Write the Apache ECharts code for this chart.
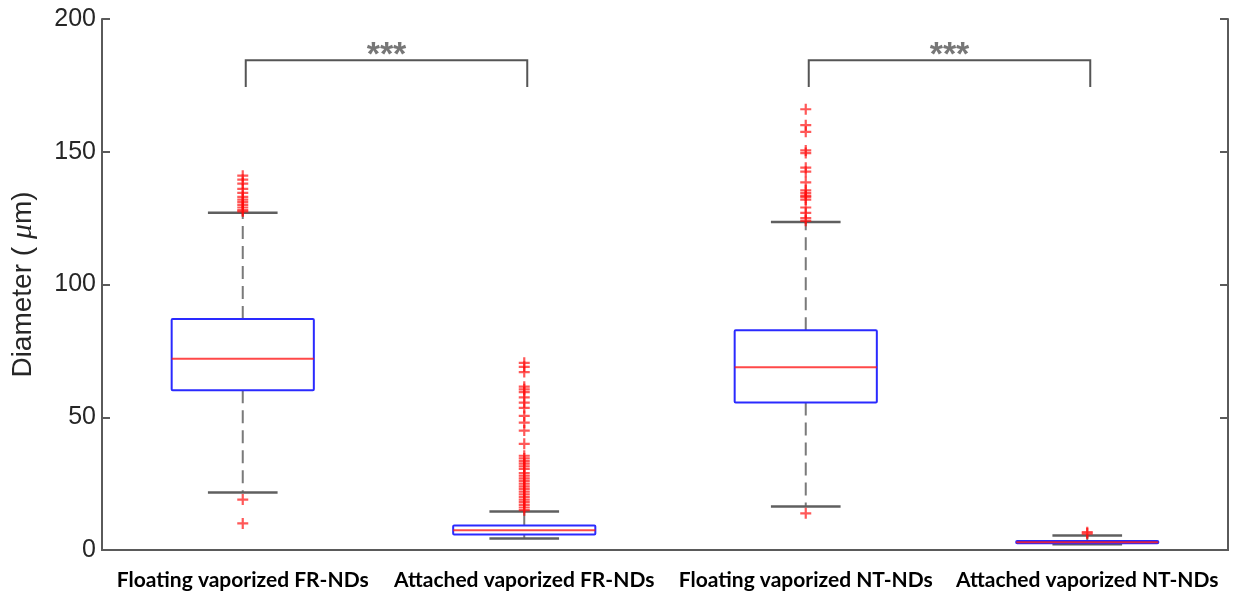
<!DOCTYPE html>
<html>
<head>
<meta charset="utf-8">
<script src="https://cdn.jsdelivr.net/npm/echarts@6/dist/echarts.min.js"></script>
<style>
  html, body { margin: 0; padding: 0; background: #fff; }
  #chart { width: 1236px; height: 601px; }
</style>
</head>
<body>
<div id="chart"></div>
<script>
// Groups along the x axis
const categories = [
  'Floating vaporized FR-NDs',
  'Attached vaporized FR-NDs',
  'Floating vaporized NT-NDs',
  'Attached vaporized NT-NDs'
];

// Box statistics per group (µm)
const whiskerLow  = [21.7, 4.3, 16.4, 2.2];
const quartile1   = [60.2, 5.8, 55.6, 2.5];
const medians     = [72.0, 7.4, 68.8, 2.9];
const quartile3   = [87.0, 9.2, 82.8, 3.4];
const whiskerHigh = [127.0, 14.5, 123.5, 5.5];

// Outliers per group (µm)
const outliersFloatingFR = [141, 139.5, 138, 136, 134.5, 133, 132, 131, 130, 129, 128, 127.5, 19, 10];
const outliersAttachedFR = [70.5, 69, 67, 61.5, 60.5, 59.5, 57.5, 55.5, 53.5, 50.5, 48, 45, 40,
  35.5, 34.5, 33.5, 32.5, 31.5, 30.5, 29, 28, 27, 26, 25, 24, 23, 22, 21, 20, 19, 18, 17, 16, 15];
const outliersFloatingNT = [166, 160, 157.5, 150.5, 149.5, 144, 142.5, 138.5, 135.5, 134.5, 133.5,
  133, 132, 129, 127, 125, 124, 13.8];
const outliersAttachedNT = [6.7, 6.2];

// Significance brackets: [left group, right group, leg bottom, bar height, text]
const brackets = [
  [0, 1, 174.4, 184.5, '***'],
  [2, 3, 174.4, 184.5, '***']
];

const boxData = categories.map((c, i) => [i, whiskerLow[i], quartile1[i], medians[i], quartile3[i], whiskerHigh[i]]);
const outlierData = [];
[outliersFloatingFR, outliersAttachedFR, outliersFloatingNT, outliersAttachedNT].forEach((arr, i) => {
  arr.forEach(v => outlierData.push([i, v]));
});

const plusPath = 'path://M4,0H6V4H10V6H6V10H4V6H0V4H4Z';
const frameColor = '#5a5a5a';

function renderBox(params, api) {
  const idx = api.value(0);
  const lo = api.coord([idx, api.value(1)]);
  const q1 = api.coord([idx, api.value(2)]);
  const md = api.coord([idx, api.value(3)]);
  const q3 = api.coord([idx, api.value(4)]);
  const hi = api.coord([idx, api.value(5)]);
  const band = api.size([1, 0])[0];
  const x = lo[0];
  const bw = band * 0.505;
  const cw = bw * 0.49;
  const dash = { stroke: '#7a7a7a', lineWidth: 2, lineDash: [13, 7] };
  const cap = { stroke: '#5f5f5f', lineWidth: 2.5 };
  return {
    type: 'group',
    children: [
      { type: 'line', shape: { x1: x, y1: q3[1], x2: x, y2: hi[1] }, style: dash },
      { type: 'line', shape: { x1: x, y1: q1[1], x2: x, y2: lo[1] }, style: dash },
      { type: 'line', shape: { x1: x - cw / 2, y1: hi[1], x2: x + cw / 2, y2: hi[1] }, style: cap },
      { type: 'line', shape: { x1: x - cw / 2, y1: lo[1], x2: x + cw / 2, y2: lo[1] }, style: cap },
      { type: 'rect', shape: { x: x - bw / 2, y: q3[1], width: bw, height: q1[1] - q3[1], r: 1 },
        style: { fill: 'none', stroke: '#2a2aff', lineWidth: 2 } },
      { type: 'line', shape: { x1: x - bw / 2, y1: md[1], x2: x + bw / 2, y2: md[1] },
        style: { stroke: 'rgba(255,20,20,0.78)', lineWidth: 2 } }
    ]
  };
}

function renderBracket(params, api) {
  const a = api.value(0), b = api.value(1);
  const pLow = api.coord([a, api.value(2)]);
  const pHigh = api.coord([a, api.value(3)]);
  const qHigh = api.coord([b, api.value(3)]);
  const qLow = api.coord([b, api.value(2)]);
  const off = 3;
  return {
    type: 'group',
    children: [
      { type: 'polyline',
        shape: { points: [[pLow[0] + off, pLow[1]], [pHigh[0] + off, pHigh[1]], [qHigh[0] + off, qHigh[1]], [qLow[0] + off, qLow[1]]] },
        style: { stroke: '#555', lineWidth: 2, fill: 'none' } },
      { type: 'text',
        style: { text: brackets[params.dataIndex][4], x: (pHigh[0] + qHigh[0]) / 2 + off, y: pHigh[1] - 5,
          align: 'center', verticalAlign: 'middle', fill: '#777', font: 'bold 34px "Liberation Sans", Arial' } }
    ]
  };
}

const chart = echarts.init(document.getElementById('chart'), null, { renderer: 'canvas' });
chart.setOption({
  animation: false,
  backgroundColor: '#fff',
  grid: { left: 100, right: 8, top: 19, bottom: 51 },
  xAxis: [
    {
      type: 'category', data: categories, position: 'bottom',
      axisLine: { lineStyle: { color: frameColor, width: 2 } },
      axisTick: { inside: true, alignWithLabel: true, length: 8, lineStyle: { color: frameColor, width: 2 } },
      axisLabel: { interval: 0, color: '#000', fontFamily: 'Lato', fontWeight: 'bold', fontSize: 21, margin: 20 }
    },
    {
      type: 'category', data: categories, position: 'top',
      axisLine: { lineStyle: { color: frameColor, width: 2 } },
      axisTick: { inside: true, alignWithLabel: true, length: 8, lineStyle: { color: frameColor, width: 2 } },
      axisLabel: { show: false }
    }
  ],
  yAxis: [
    {
      type: 'value', min: 0, max: 200, interval: 50, position: 'left',
      name: 'Diameter ( {i|μ}m)', nameLocation: 'middle', nameGap: 64,
      nameTextStyle: { color: '#262626', fontFamily: 'Liberation Sans', fontSize: 28,
        rich: { i: { fontStyle: 'italic', fontFamily: 'Liberation Serif', fontSize: 30, color: '#262626' } } },
      axisLine: { show: true, lineStyle: { color: frameColor, width: 2 } },
      axisTick: { show: true, inside: true, length: 8, lineStyle: { color: frameColor, width: 2 } },
      axisLabel: { color: '#262626', fontFamily: 'Liberation Sans', fontSize: 25, margin: 6 },
      splitLine: { show: false }
    },
    {
      type: 'value', min: 0, max: 200, interval: 50, position: 'right',
      axisLine: { show: true, lineStyle: { color: frameColor, width: 2 } },
      axisTick: { show: true, inside: true, length: 8, lineStyle: { color: frameColor, width: 2 } },
      axisLabel: { show: false },
      splitLine: { show: false }
    }
  ],
  series: [
    {
      type: 'custom', name: 'boxes', xAxisIndex: 0, yAxisIndex: 0,
      renderItem: renderBox, data: boxData, z: 2
    },
    {
      type: 'scatter', name: 'outliers', xAxisIndex: 0, yAxisIndex: 0,
      symbol: plusPath, symbolSize: 11, data: outlierData,
      itemStyle: { color: 'rgba(255,10,10,0.85)' }, z: 3
    },
    {
      type: 'custom', name: 'brackets', xAxisIndex: 0, yAxisIndex: 0,
      renderItem: renderBracket, data: brackets.map(b => [b[0], b[1], b[2], b[3]]), z: 4
    }
  ]
});
</script>
</body>
</html>
